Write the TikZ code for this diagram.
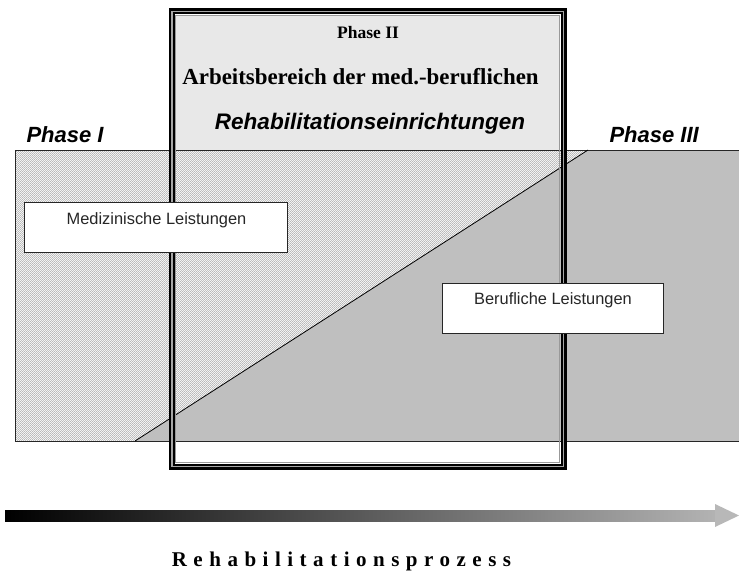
\documentclass[tikz,border=0pt]{standalone}
\usepackage{fontspec}
\setmainfont{Liberation Serif}
\setsansfont{Liberation Sans}
\usetikzlibrary{patterns}
\pgfdeclarepatternformonly{finedots}{\pgfpointorigin}{\pgfqpoint{2.4pt}{2.4pt}}{\pgfqpoint{2.4pt}{2.4pt}}{%
  \pgfpathrectangle{\pgfpointorigin}{\pgfqpoint{0.9pt}{0.9pt}}%
  \pgfpathrectangle{\pgfqpoint{1.2pt}{1.2pt}}{\pgfqpoint{0.9pt}{0.9pt}}%
  \pgfusepath{fill}}
\tikzset{
  band/.style={line width=0.9pt, draw=black!85},
  graytri/.style={fill=black!25},
  dotted area/.style={pattern=finedots, pattern color=black!55},
  infobox/.style={draw=black!85, line width=0.8pt, fill=white, anchor=north west, inner sep=0pt},
  infotext/.style={font=\sffamily\fontsize{16.4}{19}\selectfont, text=black!85, anchor=base},
  phaselabel/.style={font=\sffamily\bfseries\itshape\fontsize{22}{26}\selectfont, anchor=base west},
}
\begin{document}
\begin{tikzpicture}[x=1pt,y=-1pt]
\useasboundingbox (0,0) rectangle (739,573);
% light fill of Phase II box
\fill[black!9] (176,15.5) rectangle (559.5,150);
\fill[white] (176,441) rectangle (559.5,462.5);
% dotted band part
\fill[white] (15,150) -- (588,150) -- (135,441) -- (15,441) -- cycle;
\fill[dotted area] (15,150) -- (588,150) -- (135,441) -- (15,441) -- cycle;
% gray band part
\fill[graytri] (135,441) -- (588,150) -- (739,150) -- (739,441) -- cycle;
\draw[band] (739,150) -- (15,150) -- (15,441) -- (739,441);
\draw[line width=0.8pt] (135,441) -- (588,150);
% multiple frame of Phase II
\draw[line width=2.6pt] (169.8,9.3) rectangle (565.7,468.7);
\draw[line width=1.6pt, draw=black!35] (171.9,11.4) rectangle (563.6,466.6);
\draw[line width=2.1pt] (173.9,13.4) rectangle (561.6,464.6);
\draw[line width=0.9pt, draw=black!40] (175.8,15.3) rectangle (559.7,462.7);
% texts of Phase II
\node[anchor=base] (ph2) at (368,38) {\bfseries\fontsize{17.5}{20}\selectfont Phase II};
\node[anchor=base] (arb) at (360.5,84) {\bfseries\fontsize{22.9}{26}\selectfont Arbeitsbereich der med.-beruflichen};
\node[anchor=base] (reh) at (370,129) {\sffamily\bfseries\itshape\fontsize{22.5}{26}\selectfont Rehabilitationseinrichtungen};
% phase labels
\node[phaselabel] (ph1) at (23,142) {Phase I};
\node[phaselabel] (ph3) at (606,142) {Phase III};
% info boxes
\node[infobox, minimum width=263pt, minimum height=50pt] (med) at (24,202) {};
\node[infotext] (medt) at (156.5,224) {Medizinische Leistungen};
\node[infobox, minimum width=221pt, minimum height=50pt] (ber) at (442,283) {};
\node[infotext] (bert) at (553,304) {Berufliche Leistungen};
% process arrow
\shade[left color=black, right color=black!30] (5,510) rectangle (715,521);
\coordinate (tip) at (739,515.5);
\fill[black!28] (715,504) -- (tip) -- (715,527) -- cycle;
\node[anchor=base] (proz) at (341.5,566.5) {\addfontfeatures{LetterSpace=31}\bfseries\fontsize{21}{24}\selectfont Rehabilitationsprozess};
\end{tikzpicture}
\end{document}
